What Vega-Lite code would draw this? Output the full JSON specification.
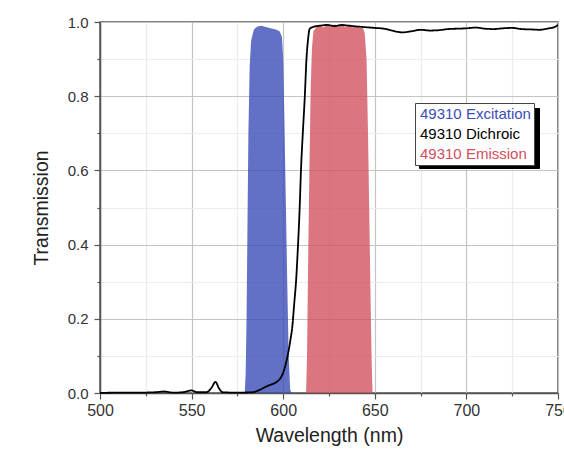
{
  "$schema": "https://vega.github.io/schema/vega-lite/v6.json",
  "width": 458,
  "height": 371,
  "autosize": {"type": "none"},
  "padding": {"left": 100, "top": 22, "right": 6, "bottom": 57},
  "background": "white",
  "config": {
    "font": "Liberation Sans",
    "view": {"stroke": "#555555", "strokeWidth": 1.5}
  },
  "data": {"values": [
    {"series": "49310 Excitation", "wavelength": 500, "transmission": 0},
    {"series": "49310 Excitation", "wavelength": 579, "transmission": 0},
    {"series": "49310 Excitation", "wavelength": 579.5, "transmission": 0.05},
    {"series": "49310 Excitation", "wavelength": 580, "transmission": 0.2},
    {"series": "49310 Excitation", "wavelength": 580.5, "transmission": 0.45},
    {"series": "49310 Excitation", "wavelength": 581, "transmission": 0.7},
    {"series": "49310 Excitation", "wavelength": 581.7, "transmission": 0.88},
    {"series": "49310 Excitation", "wavelength": 582.5, "transmission": 0.95},
    {"series": "49310 Excitation", "wavelength": 584, "transmission": 0.98},
    {"series": "49310 Excitation", "wavelength": 586, "transmission": 0.988},
    {"series": "49310 Excitation", "wavelength": 588, "transmission": 0.99},
    {"series": "49310 Excitation", "wavelength": 590, "transmission": 0.987},
    {"series": "49310 Excitation", "wavelength": 593, "transmission": 0.983},
    {"series": "49310 Excitation", "wavelength": 596, "transmission": 0.98},
    {"series": "49310 Excitation", "wavelength": 598, "transmission": 0.975},
    {"series": "49310 Excitation", "wavelength": 599.3, "transmission": 0.96},
    {"series": "49310 Excitation", "wavelength": 600, "transmission": 0.9},
    {"series": "49310 Excitation", "wavelength": 600.7, "transmission": 0.72},
    {"series": "49310 Excitation", "wavelength": 601.5, "transmission": 0.5},
    {"series": "49310 Excitation", "wavelength": 602.2, "transmission": 0.3},
    {"series": "49310 Excitation", "wavelength": 603, "transmission": 0.1},
    {"series": "49310 Excitation", "wavelength": 603.8, "transmission": 0.01},
    {"series": "49310 Excitation", "wavelength": 604.5, "transmission": 0},
    {"series": "49310 Excitation", "wavelength": 750, "transmission": 0},

    {"series": "49310 Emission", "wavelength": 500, "transmission": 0},
    {"series": "49310 Emission", "wavelength": 612.5, "transmission": 0},
    {"series": "49310 Emission", "wavelength": 613, "transmission": 0.1},
    {"series": "49310 Emission", "wavelength": 613.6, "transmission": 0.35},
    {"series": "49310 Emission", "wavelength": 614.3, "transmission": 0.6},
    {"series": "49310 Emission", "wavelength": 615, "transmission": 0.82},
    {"series": "49310 Emission", "wavelength": 615.7, "transmission": 0.93},
    {"series": "49310 Emission", "wavelength": 616.5, "transmission": 0.975},
    {"series": "49310 Emission", "wavelength": 618, "transmission": 0.985},
    {"series": "49310 Emission", "wavelength": 620, "transmission": 0.992},
    {"series": "49310 Emission", "wavelength": 622, "transmission": 0.985},
    {"series": "49310 Emission", "wavelength": 624, "transmission": 0.993},
    {"series": "49310 Emission", "wavelength": 626, "transmission": 0.986},
    {"series": "49310 Emission", "wavelength": 628, "transmission": 0.994},
    {"series": "49310 Emission", "wavelength": 630, "transmission": 0.987},
    {"series": "49310 Emission", "wavelength": 632, "transmission": 0.995},
    {"series": "49310 Emission", "wavelength": 634, "transmission": 0.986},
    {"series": "49310 Emission", "wavelength": 636, "transmission": 0.993},
    {"series": "49310 Emission", "wavelength": 638, "transmission": 0.985},
    {"series": "49310 Emission", "wavelength": 640, "transmission": 0.99},
    {"series": "49310 Emission", "wavelength": 642, "transmission": 0.984},
    {"series": "49310 Emission", "wavelength": 643.5, "transmission": 0.985},
    {"series": "49310 Emission", "wavelength": 644.5, "transmission": 0.97},
    {"series": "49310 Emission", "wavelength": 645.5, "transmission": 0.9},
    {"series": "49310 Emission", "wavelength": 646.3, "transmission": 0.7},
    {"series": "49310 Emission", "wavelength": 647, "transmission": 0.48},
    {"series": "49310 Emission", "wavelength": 647.7, "transmission": 0.25},
    {"series": "49310 Emission", "wavelength": 648.3, "transmission": 0.08},
    {"series": "49310 Emission", "wavelength": 648.8, "transmission": 0},
    {"series": "49310 Emission", "wavelength": 750, "transmission": 0},

    {"series": "49310 Dichroic", "wavelength": 500, "transmission": 0.0},
    {"series": "49310 Dichroic", "wavelength": 510, "transmission": 0.001},
    {"series": "49310 Dichroic", "wavelength": 520, "transmission": 0.001},
    {"series": "49310 Dichroic", "wavelength": 530, "transmission": 0.002},
    {"series": "49310 Dichroic", "wavelength": 535, "transmission": 0.004},
    {"series": "49310 Dichroic", "wavelength": 540, "transmission": 0.001},
    {"series": "49310 Dichroic", "wavelength": 545, "transmission": 0.002},
    {"series": "49310 Dichroic", "wavelength": 550, "transmission": 0.007},
    {"series": "49310 Dichroic", "wavelength": 553, "transmission": 0.002},
    {"series": "49310 Dichroic", "wavelength": 558, "transmission": 0.002},
    {"series": "49310 Dichroic", "wavelength": 561, "transmission": 0.015},
    {"series": "49310 Dichroic", "wavelength": 563, "transmission": 0.03},
    {"series": "49310 Dichroic", "wavelength": 565, "transmission": 0.012},
    {"series": "49310 Dichroic", "wavelength": 567, "transmission": 0.002},
    {"series": "49310 Dichroic", "wavelength": 575, "transmission": 0.001},
    {"series": "49310 Dichroic", "wavelength": 583, "transmission": 0.002},
    {"series": "49310 Dichroic", "wavelength": 587, "transmission": 0.008},
    {"series": "49310 Dichroic", "wavelength": 591, "transmission": 0.018},
    {"series": "49310 Dichroic", "wavelength": 594, "transmission": 0.024},
    {"series": "49310 Dichroic", "wavelength": 596.5, "transmission": 0.03},
    {"series": "49310 Dichroic", "wavelength": 598.5, "transmission": 0.04},
    {"series": "49310 Dichroic", "wavelength": 600, "transmission": 0.055},
    {"series": "49310 Dichroic", "wavelength": 601.5, "transmission": 0.08},
    {"series": "49310 Dichroic", "wavelength": 603, "transmission": 0.115},
    {"series": "49310 Dichroic", "wavelength": 604, "transmission": 0.145},
    {"series": "49310 Dichroic", "wavelength": 605, "transmission": 0.18},
    {"series": "49310 Dichroic", "wavelength": 606, "transmission": 0.24},
    {"series": "49310 Dichroic", "wavelength": 607, "transmission": 0.3},
    {"series": "49310 Dichroic", "wavelength": 608, "transmission": 0.39},
    {"series": "49310 Dichroic", "wavelength": 609, "transmission": 0.5},
    {"series": "49310 Dichroic", "wavelength": 609.7, "transmission": 0.6},
    {"series": "49310 Dichroic", "wavelength": 610.7, "transmission": 0.7},
    {"series": "49310 Dichroic", "wavelength": 611.8, "transmission": 0.8},
    {"series": "49310 Dichroic", "wavelength": 612.7, "transmission": 0.9},
    {"series": "49310 Dichroic", "wavelength": 613.5, "transmission": 0.95},
    {"series": "49310 Dichroic", "wavelength": 614.5, "transmission": 0.982},
    {"series": "49310 Dichroic", "wavelength": 616, "transmission": 0.986},
    {"series": "49310 Dichroic", "wavelength": 620, "transmission": 0.99},
    {"series": "49310 Dichroic", "wavelength": 624, "transmission": 0.992},
    {"series": "49310 Dichroic", "wavelength": 628, "transmission": 0.989},
    {"series": "49310 Dichroic", "wavelength": 632, "transmission": 0.992},
    {"series": "49310 Dichroic", "wavelength": 636, "transmission": 0.99},
    {"series": "49310 Dichroic", "wavelength": 640, "transmission": 0.988},
    {"series": "49310 Dichroic", "wavelength": 645, "transmission": 0.986},
    {"series": "49310 Dichroic", "wavelength": 650, "transmission": 0.984},
    {"series": "49310 Dichroic", "wavelength": 655, "transmission": 0.982},
    {"series": "49310 Dichroic", "wavelength": 660, "transmission": 0.976},
    {"series": "49310 Dichroic", "wavelength": 665, "transmission": 0.972},
    {"series": "49310 Dichroic", "wavelength": 670, "transmission": 0.975},
    {"series": "49310 Dichroic", "wavelength": 675, "transmission": 0.979},
    {"series": "49310 Dichroic", "wavelength": 680, "transmission": 0.977},
    {"series": "49310 Dichroic", "wavelength": 685, "transmission": 0.978},
    {"series": "49310 Dichroic", "wavelength": 690, "transmission": 0.981},
    {"series": "49310 Dichroic", "wavelength": 695, "transmission": 0.982},
    {"series": "49310 Dichroic", "wavelength": 700, "transmission": 0.983},
    {"series": "49310 Dichroic", "wavelength": 705, "transmission": 0.985},
    {"series": "49310 Dichroic", "wavelength": 710, "transmission": 0.982},
    {"series": "49310 Dichroic", "wavelength": 715, "transmission": 0.981},
    {"series": "49310 Dichroic", "wavelength": 720, "transmission": 0.983},
    {"series": "49310 Dichroic", "wavelength": 725, "transmission": 0.984},
    {"series": "49310 Dichroic", "wavelength": 730, "transmission": 0.981},
    {"series": "49310 Dichroic", "wavelength": 735, "transmission": 0.98},
    {"series": "49310 Dichroic", "wavelength": 740, "transmission": 0.979},
    {"series": "49310 Dichroic", "wavelength": 745, "transmission": 0.983},
    {"series": "49310 Dichroic", "wavelength": 748, "transmission": 0.986},
    {"series": "49310 Dichroic", "wavelength": 750, "transmission": 0.992}
  ]},
  "encoding": {
    "x": {
      "field": "wavelength", "type": "quantitative",
      "scale": {"domain": [500, 750], "nice": false, "zero": false},
      "axis": {
        "title": "Wavelength (nm)",
        "values": [500, 525, 550, 575, 600, 625, 650, 675, 700, 725, 750],
        "labelExpr": "datum.value % 50 == 0 ? datum.label : ''",
        "labelFontSize": 16, "labelColor": "#333333", "labelPadding": 3,
        "labelFlush": false, "labelOverlap": false,
        "titleFontSize": 19.5, "titleFontWeight": "normal", "titleColor": "#222222", "titlePadding": 8,
        "domainColor": "#555555", "domainWidth": 1.5,
        "tickColor": "#555555", "tickWidth": 1.2,
        "tickSize": {"condition": {"test": "datum.value % 50 == 0", "value": 6}, "value": 3},
        "grid": true,
        "gridColor": {"condition": {"test": "datum.value % 50 == 0", "value": "#c4c4c4"}, "value": "#ececec"},
        "gridWidth": 1.2
      }
    },
    "y": {
      "field": "transmission", "type": "quantitative",
      "scale": {"domain": [0, 1], "nice": false},
      "axis": {
        "title": "Transmission",
        "values": [0, 0.1, 0.2, 0.3, 0.4, 0.5, 0.6, 0.7, 0.8, 0.9, 1.0],
        "labelExpr": "round(datum.value * 10) % 2 == 0 ? format(datum.value, '.1f') : ''",
        "labelFontSize": 15, "labelColor": "#333333", "labelPadding": 6,
        "labelFlush": false, "labelOverlap": false,
        "titleFontSize": 19.5, "titleFontWeight": "normal", "titleColor": "#222222", "titlePadding": 16,
        "domainColor": "#555555", "domainWidth": 1.5,
        "tickColor": "#555555", "tickWidth": 1.2,
        "tickSize": {"condition": {"test": "round(datum.value * 10) % 2 == 0", "value": 6}, "value": 3},
        "grid": true,
        "gridColor": {"condition": {"test": "round(datum.value * 10) % 2 == 0", "value": "#c4c4c4"}, "value": "#ececec"},
        "gridWidth": 1.2
      }
    },
    "color": {
      "field": "series", "type": "nominal",
      "scale": {
        "domain": ["49310 Excitation", "49310 Dichroic", "49310 Emission"],
        "range": ["#3b4db8", "#000000", "#d14e5c"]
      },
      "legend": {
        "title": null,
        "orient": "none", "legendX": 315, "legendY": 81, "zindex": 2,
        "symbolSize": 0, "symbolOpacity": 0, "symbolStrokeWidth": 0,
        "labelFontSize": 15, "labelFont": "Liberation Sans", "labelOffset": -13,
        "rowPadding": 4, "padding": 3,
        "strokeColor": "#444444", "fillColor": "white",
        "encode": {"labels": {"update": {"fill": {"scale": "color", "field": "value"}}}}
      }
    }
  },
  "layer": [
    {
      "transform": [{"filter": "datum.series == '49310 Emission'"}],
      "mark": {"type": "area", "opacity": 0.78, "strokeWidth": 1, "interpolate": "linear"}
    },
    {
      "transform": [{"filter": "datum.series == '49310 Excitation'"}],
      "mark": {"type": "area", "opacity": 0.8, "strokeWidth": 1, "interpolate": "linear"}
    },
    {
      "transform": [{"filter": "datum.series == '49310 Dichroic'"}],
      "mark": {"type": "line", "strokeWidth": 1.8, "interpolate": "monotone"},
      "encoding": {
        "strokeDash": {
          "field": "series", "type": "nominal",
          "scale": {
            "domain": ["49310 Dichroic", "49310 Excitation", "49310 Emission"],
            "range": [[1, 0], [1, 0], [1, 0]]
          },
          "legend": {
            "title": null,
            "orient": "none", "legendX": 319, "legendY": 86, "zindex": 1,
            "columns": 3, "columnPadding": 28,
            "symbolType": "square", "symbolSize": 4,
            "symbolFillColor": "black", "symbolStrokeColor": "black", "symbolStrokeWidth": 0,
            "labelExpr": "''", "labelFontSize": 1, "labelOffset": 0,
            "rowPadding": 0, "padding": 29,
            "strokeColor": "black", "fillColor": "black"
          }
        }
      }
    }
  ]
}
